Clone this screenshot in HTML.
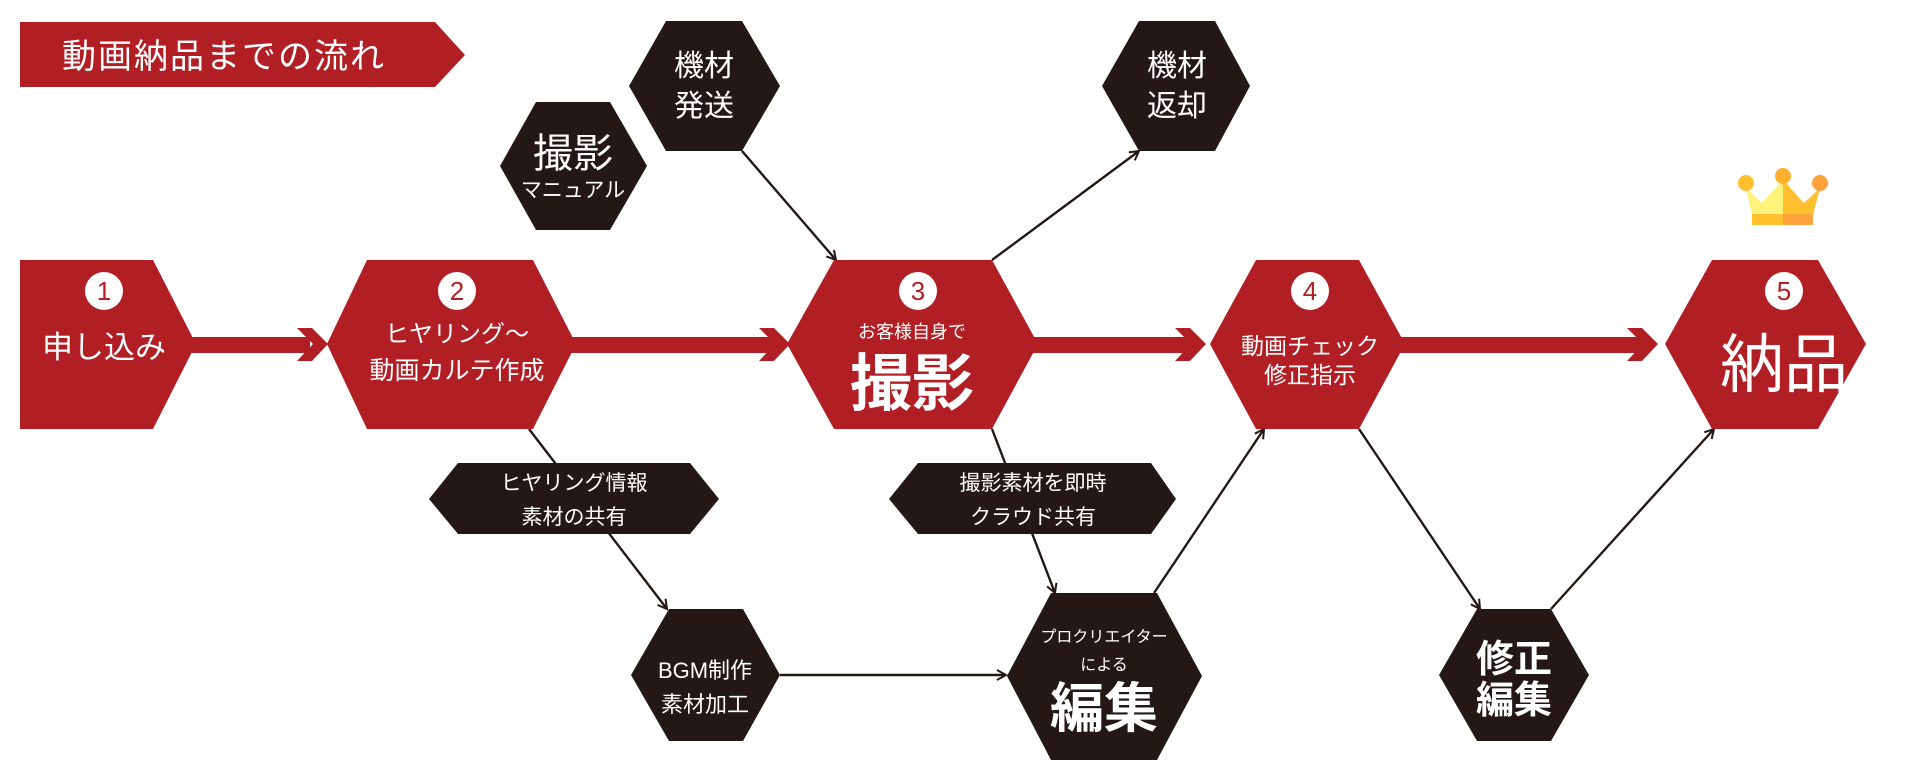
<!DOCTYPE html>
<html><head><meta charset="utf-8"><style>
html,body{margin:0;padding:0;background:#fff;}
svg{display:block;}
text{font-family:"Liberation Sans","Noto Sans CJK JP",sans-serif;}
</style></head><body>
<svg width="1920" height="780" viewBox="0 0 1920 780" xmlns="http://www.w3.org/2000/svg">
<defs>
<marker id="ah" markerWidth="12" markerHeight="12" refX="10" refY="6" orient="auto" markerUnits="userSpaceOnUse">
<path d="M1,1 L10,6 L1,11" fill="none" stroke="#231815" stroke-width="2"/>
</marker>
</defs>
<g stroke="#231815" stroke-width="2.4" fill="none" marker-end="url(#ah)">
<line x1="742" y1="151" x2="836" y2="260"/>
<line x1="992" y1="260" x2="1139" y2="151"/>
<line x1="529" y1="429" x2="667" y2="609"/>
<line x1="992" y1="429" x2="1055" y2="593"/>
<line x1="780" y1="675" x2="1006" y2="675"/>
<line x1="1154" y1="593" x2="1264" y2="429"/>
<line x1="1359" y1="429" x2="1480" y2="609"/>
<line x1="1551" y1="609" x2="1714" y2="429"/>
</g>
<!-- title -->
<polygon points="20,22 435,22 465,55 435,87 20,87" fill="#b11f24"/>
<text x="62" y="68" font-size="34" fill="#fff" letter-spacing="2">動画納品までの流れ</text>
<!-- red arrows -->
<g fill="#b11f24">
<rect x="190" y="337" width="120" height="16"/>
<polygon points="297,328 312,328 328,344 312,361 297,361 313,344"/>
<rect x="570" y="337" width="210" height="16"/>
<polygon points="759,328 774,328 790,344 774,361 759,361 775,344"/>
<rect x="1030" y="337" width="165" height="16"/>
<polygon points="1175,328 1190,328 1206,344 1190,361 1175,361 1191,344"/>
<rect x="1400" y="337" width="245" height="16"/>
<polygon points="1627,328 1642,328 1658,344 1642,361 1627,361 1643,344"/>
</g>
<!-- red hexes -->
<g fill="#b11f24">
<polygon points="20,260 153,260 196,344 153,429 20,429"/>
<polygon points="327,344 367,260 533,260 576,344 533,429 367,429"/>
<polygon points="787,344 834,260 992,260 1038,344 992,429 834,429"/>
<polygon points="1210,344 1256,260 1359,260 1405,344 1359,429 1256,429"/>
<polygon points="1665,344 1712,260 1818,260 1866,344 1818,429 1712,429"/>
</g>
<g fill="#fff">
<circle cx="104" cy="291" r="19"/><circle cx="457" cy="291" r="19"/><circle cx="918" cy="291" r="19"/><circle cx="1310" cy="291" r="19"/><circle cx="1784" cy="291" r="19"/>
</g>
<g fill="#b11f24" font-size="26" text-anchor="middle">
<text x="104" y="300">1</text><text x="457" y="300">2</text><text x="918" y="300">3</text><text x="1310" y="300">4</text><text x="1784" y="300">5</text>
</g>
<g fill="#fff" text-anchor="middle">
<text x="104" y="358" font-size="31">申し込み</text>
<text x="457" y="342" font-size="24">ヒヤリング～</text>
<text x="457" y="379" font-size="25">動画カルテ作成</text>
<text x="912" y="338" font-size="18">お客様自身で</text>
<text x="912" y="405" font-size="62" font-weight="bold">撮影</text>
<text x="1310" y="354" font-size="23">動画チェック</text>
<text x="1310" y="383" font-size="23">修正指示</text>
<text x="1784" y="387" font-size="64">納品</text>
</g>
<!-- black hexes -->
<g fill="#231815">
<polygon points="500,166 536,102 610,102 647,166 610,230 536,230"/>
<polygon points="629,86 666,21 742,21 780,86 742,151 666,151"/>
<polygon points="1102,86 1139,21 1215,21 1250,86 1215,151 1139,151"/>
<polygon points="429,499 458,463 690,463 719,499 690,534 458,534"/>
<polygon points="889,499 918,463 1151,463 1176,499 1151,534 918,534"/>
<polygon points="631,675 669,609 743,609 780,675 743,741 669,741"/>
<polygon points="1007,676 1051,593 1157,593 1202,676 1157,760 1051,760"/>
<polygon points="1439,675 1477,609 1551,609 1589,675 1551,741 1477,741"/>
</g>
<g fill="#fff" text-anchor="middle">
<text x="573" y="167" font-size="40">撮影</text>
<text x="573" y="197" font-size="21">マニュアル</text>
<text x="704" y="76" font-size="30">機材</text>
<text x="704" y="116" font-size="30">発送</text>
<text x="1177" y="76" font-size="30">機材</text>
<text x="1177" y="116" font-size="30">返却</text>
<text x="574" y="490" font-size="21">ヒヤリング情報</text>
<text x="574" y="524" font-size="21">素材の共有</text>
<text x="1033" y="490" font-size="21">撮影素材を即時</text>
<text x="1033" y="524" font-size="21">クラウド共有</text>
<text x="705" y="678" font-size="22">BGM制作</text>
<text x="705" y="712" font-size="22">素材加工</text>
<text x="1104" y="642" font-size="16">プロクリエイター</text>
<text x="1104" y="670" font-size="16">による</text>
<text x="1104" y="727" font-size="54" font-weight="bold">編集</text>
<text x="1514" y="672" font-size="38" font-weight="bold">修正</text>
<text x="1514" y="713" font-size="38" font-weight="bold">編集</text>
</g>
<!-- crown -->
<g>
<polygon points="1746,188 1762,203 1783,180 1783,215 1752,215" fill="#fff27a"/>
<polygon points="1783,180 1804,203 1820,188 1813,215 1783,215" fill="#ffc02e"/>
<rect x="1752" y="214" width="31" height="11" fill="#ffc02e"/>
<rect x="1783" y="214" width="30" height="11" fill="#ffa23a"/>
<circle cx="1746" cy="183" r="8" fill="#ffc02e"/>
<circle cx="1783" cy="176" r="8" fill="#ffb02e"/>
<circle cx="1820" cy="183" r="8" fill="#ffa23a"/>
</g>
</svg>
</body></html>
